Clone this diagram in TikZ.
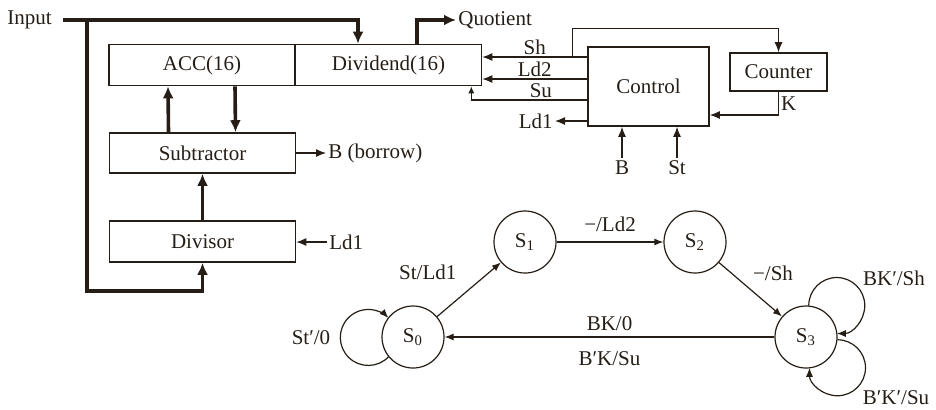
\documentclass[tikz,border=0pt]{standalone}
\usepackage{fontspec}
\setmainfont{Liberation Serif}
\usetikzlibrary{positioning,arrows.meta}
\definecolor{ink}{RGB}{38,30,22}

\begin{document}
\begin{tikzpicture}[
  x=0.5pt, y=0.5pt,
  font=\fontsize{10.5}{12}\selectfont,
  every node/.style={text=ink},
  reg/.style={draw=ink, line width=0.8pt, minimum width=93pt, minimum height=20.5pt, inner sep=0pt},
  lbl/.style={inner sep=1pt},
  state/.style={circle, draw=ink, line width=0.6pt, minimum size=31pt, inner sep=0pt},
  sig/.style={draw=ink, line width=0.6pt, -{Latex[length=5pt,width=4pt]}},
  bus/.style={draw=ink, line width=1.8pt, -{Latex[length=6pt,width=5.5pt]}},
  trans/.style={draw=ink, line width=0.6pt, -{Latex[length=4.5pt,width=3.5pt]}}]
  \useasboundingbox (0,0) rectangle (936,-409);
  % registers and control unit
  \node[reg] (acc) at (202,-65) {ACC(16)};
  \node[reg] (dvd) at (388.5,-65) {Dividend(16)};
  \node[reg, minimum height=20pt] (sub) at (202.5,-153) {Subtractor};
  \node[reg] (dvs) at (202.5,-241.5) {Divisor};
  \node[reg, minimum width=60.5pt, minimum height=39.5pt] (ctl) at (648.5,-86.5) {Control};
  \node[reg, minimum width=48.5pt, minimum height=19pt] (cnt) at (778.5,-72) {Counter};
  % free labels
  \node[lbl, anchor=east] (input) at (54,-20) {Input};
  \node[lbl, anchor=west] (quot) at (456,-20) {Quotient};
  \node[lbl, anchor=west] (borrow) at (326,-153) {B (borrow)};
  \node[lbl, anchor=west] (ldin) at (327,-242) {Ld1};
  \node[lbl, anchor=east] (ldout) at (555,-121) {Ld1};
  \node[lbl, anchor=north] (bin) at (622,-158) {B};
  \node[lbl, anchor=north] (stin) at (677,-158) {St};
  \coordinate (tap) at (87,-20);
  % data paths
  \draw[bus] ([xshift=4.5pt]input.east) -| ([xshift=-15.25pt]dvd.north);
  \draw[bus] (tap) |- ([yshift=-14pt]dvs.south) -- (dvs.south);
  \draw[bus] ([xshift=-17pt]sub.north) -- ([xshift=-17pt]acc.south);
  \draw[bus] ([xshift=16.5pt]acc.south) -- ([xshift=16.5pt]sub.north);
  \draw[bus] (dvs) -- (sub);
  \draw[bus] ([xshift=14.25pt]dvd.north) |- (quot.west);
  \draw[sig] (sub.east) -- (borrow.west);
  \draw[sig] (ldin.west) -- (ldin.west -| dvs.east);
  % control signals
  \draw[sig] ([yshift=14.75pt]ctl.west) -- node[lbl, above] (shl) {Sh} ([yshift=14.75pt]ctl.west -| dvd.east);
  \draw[sig] ([yshift=3.75pt]ctl.west) -- node[lbl, above] (ldl) {Ld2} ([yshift=3.75pt]ctl.west -| dvd.east);
  \draw[sig, -{Latex[length=3.5pt,width=3pt]}] ([yshift=-6.75pt]ctl.west) -| node[lbl, above, pos=0.2] (sul) {Su} ([xshift=-5.5pt]dvd.south east);
  \draw[sig] ([xshift=-7.5pt,yshift=14.75pt]ctl.west) |- ([yshift=12pt]cnt.north) -- (cnt.north);
  \draw[sig] ([yshift=-17.25pt]ctl.west) -- (ldout.east);
  \draw[sig] (cnt.south) |- node[lbl, right, pos=0.25] (kl) {K} ([yshift=-14.25pt]ctl.east);
  \draw[sig] (bin.north) -- (bin.north |- ctl.south);
  \draw[sig] (stin.north) -- (stin.north |- ctl.south);
  % state graph
  \node[state] (s0) at (413,-337) {S\textsubscript{0}};
  \node[state] (s1) at (525,-242) {S\textsubscript{1}};
  \node[state] (s2) at (695,-242) {S\textsubscript{2}};
  \node[state] (s3) at (806,-337) {S\textsubscript{3}};
  \draw[trans] (s0) -- node[lbl, anchor=south east, xshift=-5pt, yshift=3.75pt] (t01) {St/Ld1} (s1);
  \draw[trans] (s1) -- node[lbl, above=4pt] (t12) {−/Ld2} (s2);
  \draw[trans] (s2) -- node[lbl, above right, yshift=3pt] (t23) {−/Sh} (s3);
  \draw[trans] (s3) -- node[lbl, above=2pt] (t30a) {BK/0} node[lbl, below=6pt] (t30b) {B′K/Su} (s0);
  \draw[trans] (s0.219) arc[start angle=-44, end angle=-316, radius=14pt];
  \draw[trans] (s3.85) arc[start angle=180, end angle=-90, radius=14pt];
  \draw[trans] (s3.-5) arc[start angle=90, end angle=-180, radius=14pt];
  \node[lbl] (l00) at (311,-338) {St′/0};
  \node[lbl] (l33a) at (894,-278) {BK′/Sh};
  \node[lbl] (l33b) at (896,-398) {B′K′/Su};
\end{tikzpicture}
\end{document}
